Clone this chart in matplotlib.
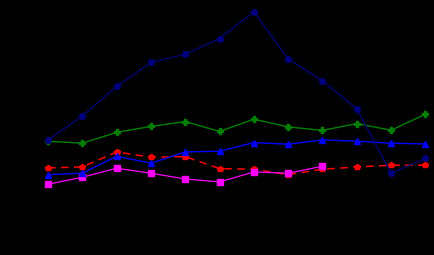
import matplotlib
matplotlib.use("Agg")
import matplotlib.pyplot as plt

# Values (arbitrary units, no axis shown)
periods = list(range(12))
navy_vals = [115, 139, 168.5, 192.5, 200.5, 216.3, 243, 196, 174, 146, 81.7, 96.5]
green_vals = [113.7, 111.7, 122.5, 128.5, 133.3, 123.5, 135.7, 128, 124.5, 131.3, 124.7, 140.7]
blue_vals = [80.3, 81.7, 98.7, 91.7, 103, 103.7, 112.3, 110.7, 115, 113.7, 111.7, 111]
red_vals = [87, 88, 103, 97.7, 98.3, 86.3, 85.7, 80.3, 85.7, 88, 89.7, 89.7]
magenta_vals = [70.7, 77.7, 86.7, 81.7, 76, 73, 83, 81.7, 88.7]

fig = plt.figure(figsize=(4.34, 2.552), dpi=100)
fig.patch.set_facecolor("black")
ax = fig.add_axes([0, 0, 1, 1])
ax.set_facecolor("black")

ax.plot(periods, red_vals, color="#ff0000", linestyle=(0, (5, 3.5)), linewidth=1.1,
        marker="p", markersize=4.2)
ax.plot(periods[:len(magenta_vals)], magenta_vals, color="#ff00ff", linewidth=0.9,
        marker="s", markersize=3.8)
ax.plot(periods, blue_vals, color="#0000ff", linewidth=1.0,
        marker="^", markersize=4.2)
ax.plot(periods, green_vals, color="#008000", linewidth=1.0,
        marker="P", markersize=4.2)
ax.plot(periods, navy_vals, color="#000080", linewidth=0.9,
        marker="o", markersize=4.0)

ax.set_xlim(-1.40, 11.25)
ax.set_ylim(0, 255)
ax.axis("off")

fig.savefig("out.png", dpi=100, facecolor="black")
